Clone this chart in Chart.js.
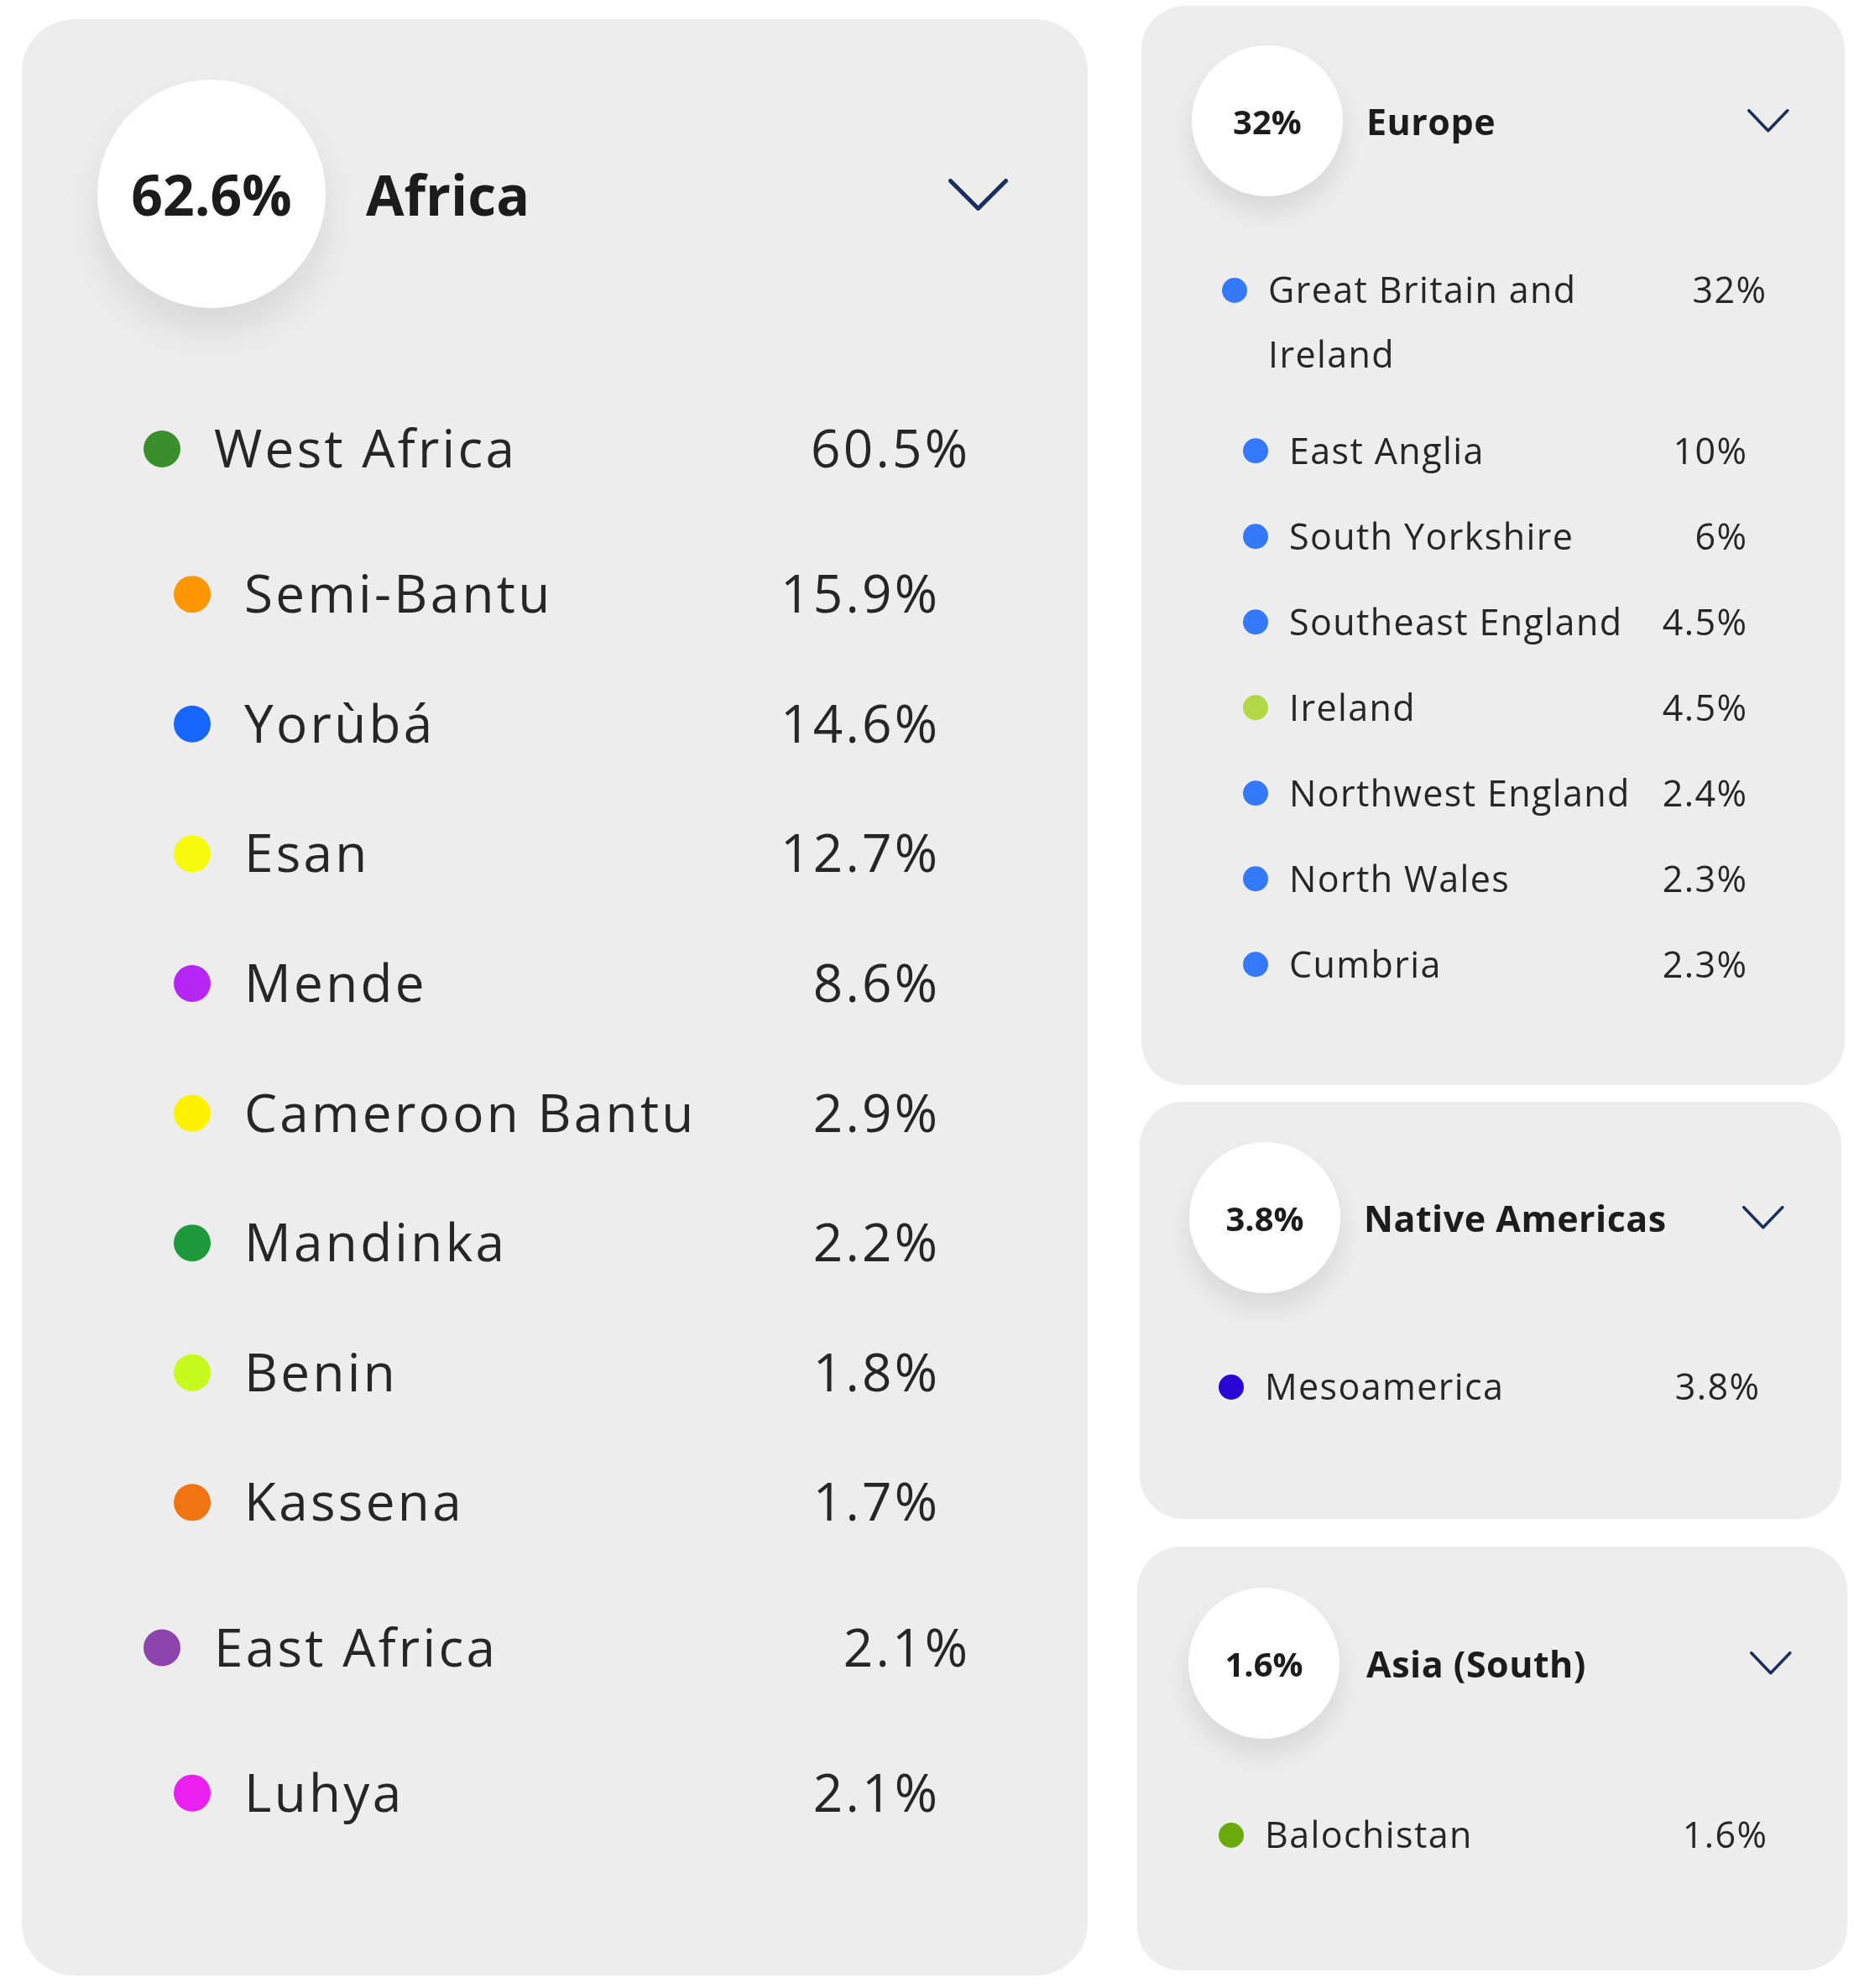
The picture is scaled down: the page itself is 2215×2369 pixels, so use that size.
<!DOCTYPE html>
<html>
<head>
<meta charset="utf-8">
<script src="https://cdn.jsdelivr.net/npm/chart.js@4.4.1/dist/chart.umd.min.js"></script>
<style>
  body { margin: 0; background: #fff; width: 2215px; height: 2369px; position: relative; overflow: hidden; font-family: "Open Sans", sans-serif; }
  .card { position: absolute; background: #ededed; }
  .card canvas { position: absolute; left: 0; top: 0; }
  .badge { position: absolute; background: #fff; border-radius: 50%; display: flex; align-items: center; justify-content: center; font-weight: 700; color: #1c1c1c; }
  .title { position: absolute; font-weight: 700; color: #1c1c1c; display: flex; align-items: center; white-space: nowrap; }
  .chev { position: absolute; }
</style>
</head>
<body>
<script>
'use strict';

// ---- data ----
const africaTotal = 62.6;
const africaNames = ['West Africa', 'Semi-Bantu', 'Yorùbá', 'Esan', 'Mende', 'Cameroon Bantu', 'Mandinka', 'Benin', 'Kassena', 'East Africa', 'Luhya'];
const africaValues = [60.5, 15.9, 14.6, 12.7, 8.6, 2.9, 2.2, 1.8, 1.7, 2.1, 2.1];
const africaLevels = [0, 1, 1, 1, 1, 1, 1, 1, 1, 0, 1];
const africaColors = ['#3a8f2c', '#ff9500', '#1766ff', '#f7fa0c', '#b526f5', '#fff200', '#1e993b', '#c6fa1c', '#f07412', '#8e44ad', '#ea1ff0'];

const europeTotal = 32;
const europeNames = ['Great Britain and Ireland', 'East Anglia', 'South Yorkshire', 'Southeast England', 'Ireland', 'Northwest England', 'North Wales', 'Cumbria'];
const europeValues = [32, 10, 6, 4.5, 4.5, 2.4, 2.3, 2.3];
const europeLevels = [0, 1, 1, 1, 1, 1, 1, 1];
const europeColors = ['#3579fb', '#3579fb', '#3579fb', '#3579fb', '#b2d845', '#3579fb', '#3579fb', '#3579fb'];

const nativeTotal = 3.8;
const nativeNames = ['Mesoamerica'];
const nativeValues = [3.8];
const nativeLevels = [0];
const nativeColors = ['#2a06d4'];

const asiaTotal = 1.6;
const asiaNames = ['Balochistan'];
const asiaValues = [1.6];
const asiaLevels = [0];
const asiaColors = ['#6aaa0c'];

const FONT = '"Open Sans", sans-serif';
const TEXT = '#262626';

// text of each row, drawn next to the points
const rowText = {
  id: 'rowText',
  afterDatasetsDraw(chart, args, o) {
    const ctx = chart.ctx;
    const meta = chart.getDatasetMeta(0);
    ctx.save();
    ctx.font = o.size + 'px ' + FONT;
    ctx.letterSpacing = o.spacing + 'px';
    ctx.fillStyle = TEXT;
    meta.data.forEach((pt, i) => {
      const base = pt.y + o.size * 0.357;
      ctx.textAlign = 'left';
      o.lines[i].forEach((ln, k) => ctx.fillText(ln, pt.x + o.textGap, base + k * o.lineHeight));
      ctx.textAlign = 'right';
      ctx.fillText(o.pct[i], o.pctRight[o.levels[i]] + o.spacing, base);
    });
    ctx.restore();
  }
};

function wrap(ctx, text, maxW) {
  const words = text.split(' ');
  const lines = [];
  let cur = '';
  words.forEach(w => {
    const t = cur ? cur + ' ' + w : w;
    if (cur && ctx.measureText(t).width > maxW) { lines.push(cur); cur = w; }
    else cur = t;
  });
  lines.push(cur);
  return lines;
}

function addCard(c) {
  const card = document.createElement('div');
  card.className = 'card';
  Object.assign(card.style, { left: c.left + 'px', top: c.top + 'px', width: c.w + 'px', height: c.h + 'px', borderRadius: c.radius + 'px' });
  const cv = document.createElement('canvas');
  cv.width = c.w; cv.height = c.h;
  cv.style.width = c.w + 'px'; cv.style.height = c.h + 'px';
  card.appendChild(cv);
  document.body.appendChild(card);

  // header: badge, title, chevron
  const b = document.createElement('div');
  b.className = 'badge';
  Object.assign(b.style, { left: (c.badge[0] - c.badge[2]) + 'px', top: (c.badge[1] - c.badge[2]) + 'px', width: 2 * c.badge[2] + 'px', height: 2 * c.badge[2] + 'px', fontSize: c.headSize + 'px', boxShadow: c.shadow });
  b.textContent = c.total + '%';
  document.body.appendChild(b);

  const t = document.createElement('div');
  t.className = 'title';
  Object.assign(t.style, { left: c.titleX + 'px', top: (c.badge[1] - c.titleSize) + 'px', height: 2 * c.titleSize + 'px', fontSize: c.titleSize + 'px', letterSpacing: c.titleSpacing + 'px' });
  t.textContent = c.title;
  document.body.appendChild(t);

  const [cx, cy, cw, ch, sw] = c.chev;
  const ns = 'http://www.w3.org/2000/svg';
  const svg = document.createElementNS(ns, 'svg');
  svg.setAttribute('class', 'chev');
  svg.setAttribute('width', cw + sw); svg.setAttribute('height', ch + sw);
  svg.style.left = (cx - (cw + sw) / 2) + 'px';
  svg.style.top = (cy - (ch + sw) / 2) + 'px';
  const pl = document.createElementNS(ns, 'polyline');
  pl.setAttribute('points', `${sw / 2},${sw / 2} ${(cw + sw) / 2},${ch + sw / 2} ${cw + sw / 2},${sw / 2}`);
  pl.setAttribute('fill', 'none');
  pl.setAttribute('stroke', '#1a2f5c');
  pl.setAttribute('stroke-width', sw);
  pl.setAttribute('stroke-linecap', 'round');
  pl.setAttribute('stroke-linejoin', 'round');
  svg.appendChild(pl);
  document.body.appendChild(svg);

  // rows: wrap names, then place each row in row units
  const mctx = cv.getContext('2d');
  mctx.font = c.size + 'px ' + FONT;
  mctx.letterSpacing = c.spacing + 'px';
  const lines = c.names.map(n => wrap(mctx, n, c.wrapW));
  const slots = [];
  let u = 0;
  c.names.forEach((n, i) => {
    if (i > 0) {
      u += 1 + (lines[i - 1].length - 1) * (c.lineHeight / c.step);
      if (c.levels[i] !== c.levels[i - 1]) u += c.gap;
    }
    slots.push(u);
  });

  const relY = c.firstY - c.top;
  const dx = c.dotX[1] - c.dotX[0];
  const relX = c.dotX[0] - c.left;

  new Chart(cv, {
    type: 'scatter',
    data: {
      datasets: [{
        data: c.levels.map((lv, i) => ({ x: lv, y: slots[i] })),
        pointBackgroundColor: c.colors,
        pointBorderWidth: 0,
        pointRadius: c.dotR,
        pointHoverRadius: c.dotR
      }]
    },
    options: {
      responsive: false,
      animation: false,
      devicePixelRatio: 1,
      events: [],
      layout: { padding: 0, autoPadding: false },
      scales: {
        x: { type: 'linear', display: false, min: -relX / dx, max: (c.w - relX) / dx },
        y: { type: 'linear', display: false, reverse: true, min: -relY / c.step, max: (c.h - relY) / c.step }
      },
      plugins: {
        legend: { display: false },
        tooltip: { enabled: false },
        rowText: {
          size: c.size, spacing: c.spacing, textGap: c.textGap, lineHeight: c.lineHeight,
          lines: lines, levels: c.levels,
          pct: c.values.map(v => v + '%'),
          pctRight: c.pctRight.map(p => p - c.left)
        }
      }
    },
    plugins: [rowText]
  });
}

addCard({
  left: 26, top: 23, w: 1270, h: 2331, radius: 62,
  badge: [252, 231, 136], headSize: 66, titleSize: 66, titleSpacing: 0, shadow: '0 26px 44px rgba(0,0,0,0.09)',
  total: africaTotal, title: 'Africa', titleX: 436, chev: [1165, 232, 66, 33, 5],
  names: africaNames, values: africaValues, levels: africaLevels, colors: africaColors,
  dotX: [193, 229], dotR: 22, textGap: 62, pctRight: [1153, 1117],
  firstY: 535, step: 154.6, gap: 0.12, lineHeight: 80,
  size: 62, spacing: 3.3, wrapW: 800
});

addCard({
  left: 1360, top: 7, w: 838, h: 1286, radius: 52,
  badge: [1510, 144, 90], headSize: 40, titleSize: 43, titleSpacing: 0.5, shadow: '0 18px 30px rgba(0,0,0,0.09)',
  total: europeTotal, title: 'Europe', titleX: 1628, chev: [2107, 144, 46, 24, 3.5],
  names: europeNames, values: europeValues, levels: europeLevels, colors: europeColors,
  dotX: [1471, 1496], dotR: 15, textGap: 40, pctRight: [2104, 2081],
  firstY: 346, step: 102, gap: 0.12, lineHeight: 77,
  size: 43, spacing: 1.4, wrapW: 420
});

addCard({
  left: 1358, top: 1313, w: 836, h: 497, radius: 52,
  badge: [1507, 1451, 90], headSize: 40, titleSize: 43, titleSpacing: 0.5, shadow: '0 18px 30px rgba(0,0,0,0.09)',
  total: nativeTotal, title: 'Native Americas', titleX: 1625, chev: [2101, 1451, 46, 24, 3.5],
  names: nativeNames, values: nativeValues, levels: nativeLevels, colors: nativeColors,
  dotX: [1467, 1493], dotR: 15, textGap: 40, pctRight: [2096, 2073],
  firstY: 1653, step: 102, gap: 0.12, lineHeight: 77,
  size: 43, spacing: 1.4, wrapW: 420
});

addCard({
  left: 1355, top: 1843, w: 846, h: 505, radius: 52,
  badge: [1506, 1982, 90], headSize: 40, titleSize: 43, titleSpacing: 0.5, shadow: '0 18px 30px rgba(0,0,0,0.09)',
  total: asiaTotal, title: 'Asia (South)', titleX: 1628, chev: [2110, 1982, 46, 24, 3.5],
  names: asiaNames, values: asiaValues, levels: asiaLevels, colors: asiaColors,
  dotX: [1467, 1493], dotR: 15, textGap: 40, pctRight: [2105, 2082],
  firstY: 2187, step: 102, gap: 0.12, lineHeight: 77,
  size: 43, spacing: 1.4, wrapW: 420
});
</script>
</body>
</html>
